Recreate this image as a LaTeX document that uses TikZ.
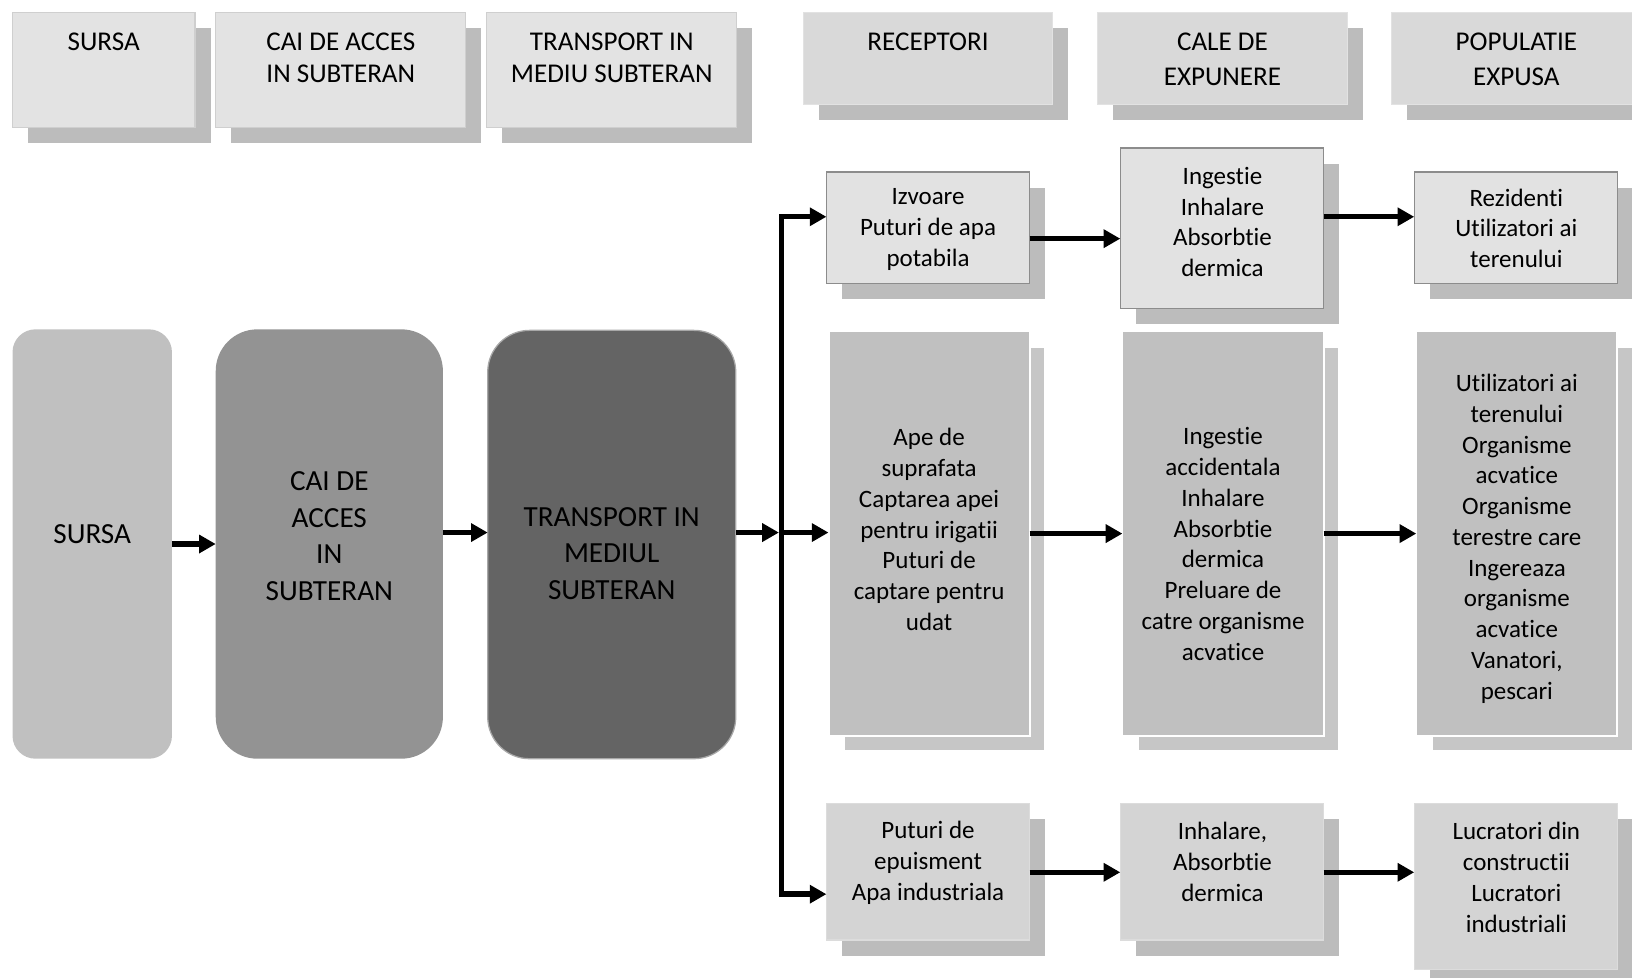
\documentclass[tikz,border=0pt]{standalone}
\usepackage{fontspec}
\setmainfont{Carlito}[Ligatures={NoCommon}]
\usetikzlibrary{arrows.meta,shadows}
\definecolor{shd}{HTML}{BCBCBC}
\definecolor{hdrA}{HTML}{E3E3E3}
\definecolor{hdrAline}{HTML}{CFCFCF}
\definecolor{hdrB}{HTML}{D9D9D9}
\definecolor{hdrBline}{HTML}{E2E2E2}
\definecolor{lightbox}{HTML}{E2E2E2}
\definecolor{lightline}{HTML}{8C8C8C}
\definecolor{midbox}{HTML}{C0C0C0}
\definecolor{midshd}{HTML}{C6C6C6}
\definecolor{lowbox}{HTML}{D4D4D4}
\definecolor{lowline}{HTML}{DCDCDC}
\definecolor{srcfill}{HTML}{C0C0C0}
\definecolor{caifill}{HTML}{939393}
\definecolor{trfill}{HTML}{646464}
\definecolor{trline}{HTML}{A8A8A8}
\begin{document}
\begin{tikzpicture}[x=0.5pt,y=-0.5pt,
  sz/.style 2 args={minimum width=#1*0.5pt, minimum height=#2*0.5pt},
  basebox/.style={rectangle, inner sep=0pt, outer sep=0pt},
  shadowed/.style={drop shadow={shadow xshift=7.5pt, shadow yshift=-7.5pt, fill=shd, opacity=1}},
  hdrbox/.style={basebox, fill=hdrA, draw=hdrAline, line width=0.6pt, shadowed},
  hdrboxb/.style={basebox, fill=hdrB, draw=hdrBline, line width=0.6pt, shadowed},
  topbox/.style={basebox, fill=lightbox, draw=lightline, line width=0.6pt, shadowed},
  midcol/.style={basebox, fill=midbox, draw=white, line width=1pt,
    drop shadow={shadow xshift=7.5pt, shadow yshift=-7.5pt, fill=midshd, draw=white, line width=1pt, opacity=1}},
  lowcol/.style={basebox, fill=lowbox, draw=lowline, line width=0.6pt, shadowed},
  txt/.style={align=center, inner sep=0pt, font=\fontsize{12}{14.75}\selectfont},
  txtH/.style={align=center, inner sep=0pt, font=\fontsize{13}{15.5}\selectfont},
  txtH2/.style={align=center, inner sep=0pt, font=\fontsize{13}{17}\selectfont},
  txtM/.style={align=center, inner sep=0pt, font=\fontsize{14}{17.5}\selectfont},
  arr/.style={line width=2.6pt, -{Triangle[length=8pt,width=8.5pt]}},
  busline/.style={line width=2.6pt}
]
\useasboundingbox (0,0) rectangle (1566,938);
\clip (0,0) rectangle (1566,938);

% header row
\node[hdrbox, sz={175}{110}] (h1) at (99.5,67) {};
\node[hdrbox, sz={240}{110}] (h2) at (327,67) {};
\node[hdrbox, sz={240}{110}] (h3) at (587,67) {};
\node[hdrboxb, sz={239}{88}] (h4) at (890.5,56) {};
\node[hdrboxb, sz={240}{88}] (h5) at (1173,56) {};
\node[hdrboxb, sz={240}{88}] (h6) at (1455,56) {};
\node[txtH] (ht1) at (99.5,40) {SURSA};
\node[txtH] (ht2) at (327,55.5) {CAI DE ACCES\\IN SUBTERAN};
\node[txtH] (ht3) at (587,55.5) {TRANSPORT IN\\MEDIU SUBTERAN};
\node[txtH] (ht4) at (890.5,40) {RECEPTORI};
\node[txtH2] (ht5) at (1173,57) {CALE DE\\EXPUNERE};
\node[txtH2] (ht6) at (1455,57) {POPULATIE\\EXPUSA};

% main left boxes
\node[basebox, fill=srcfill, rounded corners=11pt, sz={153}{412}] (m1) at (88.5,522) {};
\node[basebox, fill=caifill, rounded corners=20pt, sz={218}{412}] (m2) at (316,522) {};
\node[basebox, fill=trfill, draw=trline, line width=0.6pt, rounded corners=20pt, sz={238}{411}] (m3) at (587,522.5) {};
\node[txtM] (mt1) at (88.5,513) {SURSA};
\node[txtM] (mt2) at (316,514.5) {CAI DE\\ACCES\\IN\\SUBTERAN};
\node[txtM] (mt3) at (587,531) {TRANSPORT IN\\MEDIUL\\SUBTERAN};

% receptor column
\node[topbox, sz={195}{107}] (r1) at (890.5,218.5) {};
\node[midcol, sz={193}{388}] (r2) at (891.5,512) {};
\node[lowcol, sz={195}{131}] (r3) at (890.5,836.5) {};
% exposure column
\node[topbox, sz={195}{154}] (e1) at (1172.5,219) {};
\node[midcol, sz={193}{388}] (e2) at (1173.5,512) {};
\node[lowcol, sz={195}{131}] (e3) at (1172.5,836.5) {};
% population column
\node[topbox, sz={195}{107}] (p1) at (1454.5,218.5) {};
\node[midcol, sz={193}{388}] (p2) at (1455.5,512) {};
\node[lowcol, sz={195}{159}] (p3) at (1454.5,850.5) {};

\node[txt] (rt1) at (890.5,220) {Izvoare\\Puturi de apa\\potabila};
\node[txt] (rt2) at (891.5,508) {Ape de\\suprafata\\Captarea apei\\pentru irigatii\\Puturi de\\captare pentru\\udat};
\node[txt] (rt3) at (890.5,828) {Puturi de\\epuisment\\Apa industriala};
\node[txt] (et1) at (1173,213) {Ingestie\\Inhalare\\Absorbtie\\dermica};
\node[txt] (et2) at (1173.5,522) {Ingestie\\accidentala\\Inhalare\\Absorbtie\\dermica\\Preluare de\\catre organisme\\acvatice};
\node[txt] (et3) at (1173,827) {Inhalare,\\Absorbtie\\dermica};
\node[txt] (pt1) at (1455,219) {Rezidenti\\Utilizatori ai\\terenului};
\node[txt] (pt2) at (1455.5,517) {Utilizatori ai\\terenului\\Organisme\\acvatice\\Organisme\\terestre care\\Ingereaza\\organisme\\acvatice\\Vanatori,\\pescari};
\node[txt] (pt3) at (1455,842) {Lucratori din\\constructii\\Lucratori\\industriali};

% connectors
\coordinate (bustop) at (750,208);
\coordinate (busmid) at (750,511);
\coordinate (busbot) at (750,858);
\coordinate (busin) at (747.4,511);
\coordinate (ya) at (0,229);
\coordinate (yb) at (0,208);
\coordinate (yc) at (0,837);

\draw[arr] (m1.east) -- (m2.west);
\draw[arr] (m2.east |- busmid) -- (m3.west |- busmid);
\draw[arr] (m3.east |- busmid) -- (busin);
\draw[arr] (busmid) |- (bustop -| r1.west);
\draw[arr] (busmid) |- (busbot -| r3.west);
\draw[arr] (busmid) -- (busmid -| r2.west);

\draw[arr] (r1.east |- ya) -- (e1.west |- ya);
\draw[arr] (e1.east |- yb) -- (p1.west |- yb);
\draw[arr] (r2.east) -- (e2.west);
\draw[arr] (e2.east) -- (p2.west);
\draw[arr] (r3.east |- yc) -- (e3.west |- yc);
\draw[arr] (e3.east |- yc) -- (p3.west |- yc);
\end{tikzpicture}
\end{document}
